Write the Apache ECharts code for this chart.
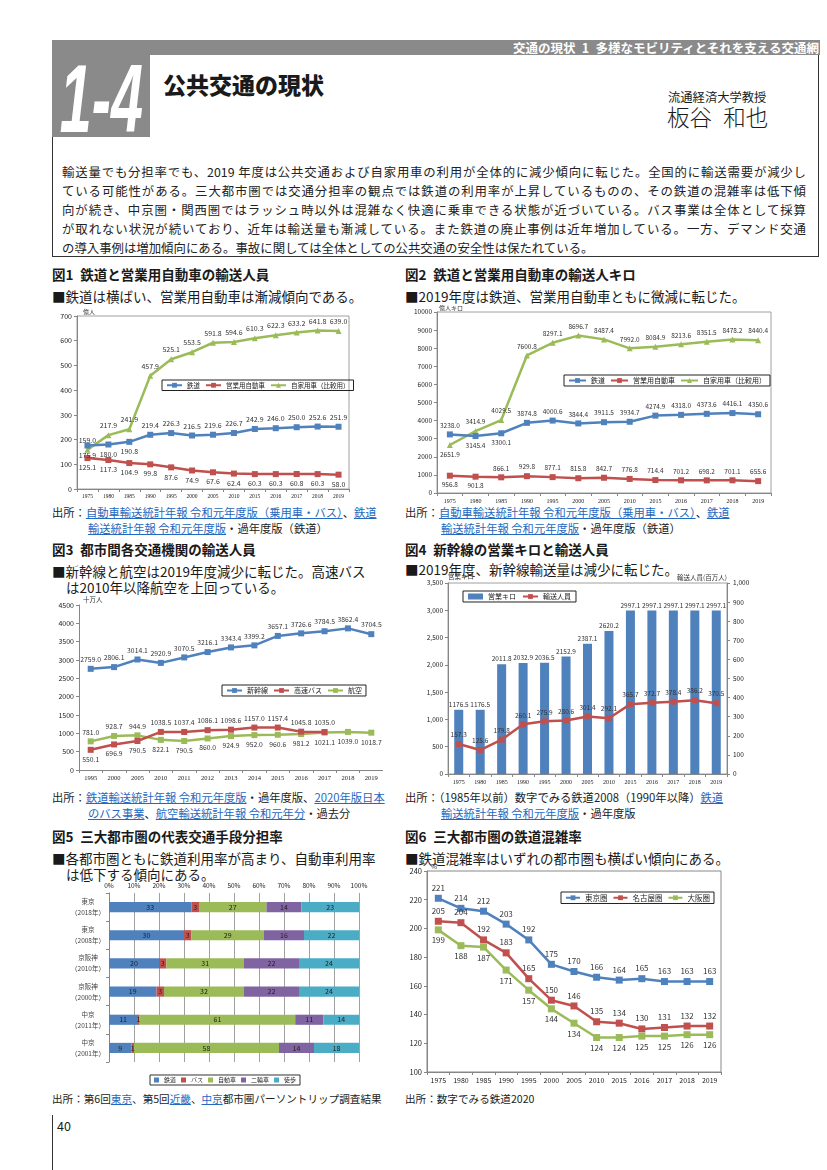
<!DOCTYPE html>
<html><head><meta charset="utf-8">
<script src="https://cdn.jsdelivr.net/npm/echarts@6/dist/echarts.min.js"></script>
<style>
body{margin:0;background:#fff;}
#page{position:relative;width:827px;height:1170px;overflow:hidden;background:#fff;font-family:"Noto Sans CJK JP",sans-serif;color:#1a1a1a;}
.t{position:absolute;white-space:nowrap;line-height:1.15;}
.ttl{font-weight:700;font-size:13.5px;}
.sub{font-size:13.5px;}
.src{font-size:11.3px;color:#222;}
.src a{color:#2468c0;text-decoration:underline;}
.chart{position:absolute;}
.para{position:absolute;left:62px;width:744px;font-size:12.4px;line-height:19px;color:#222;}
.para div{text-align:justify;text-align-last:justify;white-space:nowrap;}
.para div.last{text-align-last:left;}
</style></head>
<body><div id="page">
<!-- header -->
<div style="position:absolute;left:52px;top:40px;width:768px;height:15px;background:#8a8a8a;"></div>
<div class="t" style="right:8px;top:40px;height:15px;line-height:15px;color:#fff;font-weight:700;font-size:12.5px;">交通の現状&ensp;1&ensp;多様なモビリティとそれを支える交通網</div>
<div style="position:absolute;left:52px;top:55px;width:765px;height:201px;border:1px solid #333;border-top:none;"></div>
<div style="position:absolute;left:52px;top:55px;width:98px;height:82px;background:#8a8a8a;overflow:hidden;">
  <div style="position:absolute;left:-101px;top:-4px;width:300px;text-align:center;line-height:1;">
    <span style="display:inline-block;color:#fff;font-family:'Liberation Sans',sans-serif;font-weight:700;font-style:italic;font-size:96px;line-height:1;transform:scaleX(0.6);transform-origin:center;">1-4</span>
  </div>
</div>
<div class="t" style="left:163px;top:71px;font-size:23px;font-weight:900;">公共交通の現状</div>
<div class="t" style="left:668px;top:90px;font-size:12.3px;">流通経済大学教授</div>
<div class="t" style="left:667px;top:104px;font-size:22.5px;font-weight:300;">板谷&ensp;和也</div>
<div class="para" style="top:163px;">
<div>輸送量でも分担率でも、2019 年度は公共交通および自家用車の利用が全体的に減少傾向に転じた。全国的に輸送需要が減少し</div>
<div>ている可能性がある。三大都市圏では交通分担率の観点では鉄道の利用率が上昇しているものの、その鉄道の混雑率は低下傾</div>
<div>向が続き、中京圏・関西圏ではラッシュ時以外は混雑なく快適に乗車できる状態が近づいている。バス事業は全体として採算</div>
<div>が取れない状況が続いており、近年は輸送量も漸減している。また鉄道の廃止事例は近年増加している。一方、デマンド交通</div>
<div class="last">の導入事例は増加傾向にある。事故に関しては全体としての公共交通の安全性は保たれている。</div>
</div>

<!-- titles -->
<div class="t ttl" style="left:52px;top:267px;">図1&ensp;鉄道と営業用自動車の輸送人員</div>
<div class="t sub" style="left:52px;top:289px;">■鉄道は横ばい、営業用自動車は漸減傾向である。</div>
<div class="t ttl" style="left:405px;top:267px;">図2&ensp;鉄道と営業用自動車の輸送人キロ</div>
<div class="t sub" style="left:405px;top:289px;">■2019年度は鉄道、営業用自動車ともに微減に転じた。</div>

<div class="t src" style="left:52px;top:506px;">出所：<a>自動車輸送統計年報 令和元年度版（乗用車・バス）</a>、<a>鉄道</a></div>
<div class="t src" style="left:88px;top:522px;"><a>輸送統計年報 令和元年度版</a>・過年度版（鉄道）</div>
<div class="t src" style="left:405px;top:506px;">出所：<a>自動車輸送統計年報 令和元年度版（乗用車・バス）</a>、<a>鉄道</a></div>
<div class="t src" style="left:441px;top:522px;"><a>輸送統計年報 令和元年度版</a>・過年度版（鉄道）</div>

<div class="t ttl" style="left:52px;top:542px;">図3&ensp;都市間各交通機関の輸送人員</div>
<div class="t sub" style="left:52px;top:564px;">■新幹線と航空は2019年度減少に転じた。高速バス</div>
<div class="t sub" style="left:66px;top:580px;">は2010年以降航空を上回っている。</div>
<div class="t ttl" style="left:405px;top:542px;">図4&ensp;新幹線の営業キロと輸送人員</div>
<div class="t sub" style="left:405px;top:562px;">■2019年度、新幹線輸送量は減少に転じた。</div>

<div class="t src" style="left:52px;top:791px;">出所：<a>鉄道輸送統計年報 令和元年度版</a>・過年度版、<a>2020年版日本</a></div>
<div class="t src" style="left:88px;top:807px;"><a>のバス事業</a>、<a>航空輸送統計年報 令和元年分</a>・過去分</div>
<div class="t src" style="left:405px;top:791px;">出所：（1985年以前）数字でみる鉄道2008（1990年以降）<a>鉄道</a></div>
<div class="t src" style="left:441px;top:807px;"><a>輸送統計年報 令和元年度版</a>・過年度版</div>

<div class="t ttl" style="left:52px;top:829px;">図5&ensp;三大都市圏の代表交通手段分担率</div>
<div class="t sub" style="left:52px;top:851px;">■各都市圏ともに鉄道利用率が高まり、自動車利用率</div>
<div class="t sub" style="left:66px;top:867px;">は低下する傾向にある。</div>
<div class="t ttl" style="left:405px;top:829px;">図6&ensp;三大都市圏の鉄道混雑率</div>
<div class="t sub" style="left:405px;top:851px;">■鉄道混雑率はいずれの都市圏も横ばい傾向にある。</div>

<div class="t src" style="left:52px;top:1093px;font-size:10.6px;">出所：第6回<a>東京</a>、第5回<a>近畿</a>、<a>中京</a>都市圏パーソントリップ調査結果</div>
<div class="t src" style="left:405px;top:1093px;font-size:10.6px;">出所：数字でみる鉄道2020</div>

<div style="position:absolute;left:52px;top:1115px;width:1px;height:55px;background:#333;"></div>
<div class="t" style="left:57px;top:1119px;font-size:12.5px;">40</div>

<div id="c1" class="chart" style="left:52px;top:306px;width:305px;height:200px;"></div>
<div id="c2" class="chart" style="left:405px;top:305px;width:370px;height:205px;"></div>
<div id="c3" class="chart" style="left:52px;top:596px;width:331px;height:196px;"></div>
<div id="c4" class="chart" style="left:405px;top:570px;width:370px;height:222px;"></div>
<div id="c5" class="chart" style="left:52px;top:876px;width:320px;height:215px;"></div>
<div id="c6" class="chart" style="left:405px;top:860px;width:370px;height:232px;"></div>
</div>
<script>
// ---------------- DATA ----------------
const years = ['1975','1980','1985','1990','1995','2000','2005','2010','2015','2016','2017','2018','2019'];
// Fig1 輸送人員 (億人)
const fig1Rail = [175.9,180.0,190.8,219.4,226.3,216.5,219.6,226.7,242.9,246.0,250.0,252.6,251.9];
const fig1Bus  = [125.1,117.3,104.9,99.8,87.6,74.9,67.6,62.4,60.3,60.3,60.8,60.3,58.0];
const fig1Car  = [159.0,217.9,241.9,457.9,525.1,553.5,591.8,594.6,610.3,622.3,633.2,641.8,639.0];
const fig1Ticks = {min:0,max:700,interval:100};
// Fig2 輸送人キロ (億人キロ)
const fig2Rail = [3238.0,3145.4,3300.1,3874.8,4000.6,3844.4,3911.5,3934.7,4274.9,4318.0,4373.6,4416.1,4350.6];
const fig2Bus  = [956.8,901.8,866.1,929.8,877.1,815.8,842.7,776.8,714.4,701.2,698.2,701.1,655.6];
const fig2Car  = [2651.9,3414.9,4029.5,7600.8,8297.1,8696.7,8487.4,7992.0,8084.9,8213.6,8351.5,8478.2,8440.4];
const fig2Ticks = {min:0,max:10000,interval:1000};
// Fig3 都市間 (十万人)
const years3 = ['1995','2000','2005','2010','2011','2012','2013','2014','2015','2016','2017','2018','2019'];
const fig3Shinkansen = [2759.0,2806.1,3014.1,2920.9,3070.5,3216.1,3343.4,3399.2,3657.1,3726.6,3784.5,3862.4,3704.5];
const fig3Bus = [550.1,696.9,790.5,1038.5,1037.4,1086.1,1098.6,1157.0,1157.4,1045.8,1035.0];
const fig3Air = [781.0,928.7,944.9,822.1,790.5,860.0,924.9,952.0,960.6,981.2,1021.1,1039.0,1018.7];
const fig3Ticks = {min:0,max:4500,interval:500};
// Fig4 新幹線
const fig4Km = [1176.5,1176.5,2011.8,2032.9,2036.5,2152.9,2387.1,2620.2,2997.1,2997.1,2997.1,2997.1,2997.1];
const fig4Pax = [157.3,125.6,179.8,260.1,275.9,280.6,301.4,292.1,365.7,372.7,378.4,386.2,370.5];
const fig4LeftTicks = {min:0,max:3500,interval:500};
const fig4RightTicks = {min:0,max:1000,interval:100};
// Fig5 分担率 (%)
const fig5Cats = ['東京\n（2018年）','東京\n（2008年）','京阪神\n（2010年）','京阪神\n（2000年）','中京\n（2011年）','中京\n（2001年）'];
const fig5Modes = ['鉄道','バス','自動車','二輪車','徒歩'];
const fig5Rail = [33,30,20,19,11,9];
const fig5Bus  = [3,3,3,3,1,1];
const fig5Car  = [27,29,31,32,61,58];
const fig5Bike = [14,16,22,22,11,14];
const fig5Walk = [23,22,24,24,14,18];
// Fig6 混雑率 (%)
const fig6Tokyo  = [221,214,212,203,192,175,170,166,164,165,163,163,163];
const fig6Nagoya = [205,204,192,183,165,150,146,135,134,130,131,132,132];
const fig6Osaka  = [199,188,187,171,157,144,134,124,124,125,125,126,126];
const fig6Ticks = {min:100,max:240,interval:20};

// ---------------- STYLE ----------------
const BLUE='#4F81BD', RED='#C0504D', GREEN='#9BBB59', PURPLE='#8064A2', CYAN='#4BACC6';
const FONT = "'Noto Sans CJK JP', sans-serif";
const AX = '#868686';

function lineS(name, data, color, symbol, below, opt){
  opt = opt || {};
  return {
    type:'line', name, symbol, symbolSize: opt.ss || 6,
    yAxisIndex: opt.yi || 0,
    data: data.map((v,i)=>({value:v, label:{position: below.indexOf(i)>=0 ? 'bottom':'top'}})),
    itemStyle:{color}, lineStyle:{color, width: opt.lw || 2.5},
    label:{show:true, fontSize: opt.fs || 7, color:'#333', distance: 3,
      formatter: p => opt.int ? String(p.value) : p.value.toFixed(1)},
    animation:false, z: opt.z || 2
  };
}
function range(a,b){const r=[];for(let i=a;i<=b;i++)r.push(i);return r;}

function catAxis(cats, fs, ff){
  return {type:'category', data:cats, boundaryGap:true,
    axisLine:{show:true,lineStyle:{color:AX}}, axisTick:{show:true,length:3,lineStyle:{color:AX}},
    axisLabel:{fontSize:fs, color:'#222', margin:5, interval:0, fontFamily: ff || FONT}};
}
function valAxis(t, fs, extra){
  return Object.assign({type:'value', min:t.min, max:t.max, interval:t.interval,
    axisLine:{show:true,lineStyle:{color:AX}}, axisTick:{show:true,length:3,lineStyle:{color:AX}},
    splitLine:{show:false}, axisLabel:{fontSize:fs, color:'#222', margin:5, formatter:v=>String(v)}}, extra||{});
}
function legendBox(left, top, names, fs, iw){
  return {left, top, orient:'horizontal', data:names, itemWidth: iw || 15, itemHeight:6, itemGap:5,
    borderColor:'#222', borderWidth:1, padding:[2,4], textStyle:{fontSize:fs, color:'#222'}};
}

// ---------------- FIG 1 ----------------
echarts.init(document.getElementById('c1')).setOption({
  animation:false, textStyle:{fontFamily:FONT},
  grid:{left:25, right:8, top:10, bottom:17, show:true, borderColor:'#a0a0a0', borderWidth:1},
  legend: legendBox(110, 74, ['鉄道','営業用自動車','自家用車（比較用）'], 6.5),
  xAxis: catAxis(years, 5.5, "'Liberation Serif', serif"),
  yAxis: valAxis(fig1Ticks, 7, {name:'億人', nameLocation:'end', nameGap:1,
    nameTextStyle:{fontSize:6, align:'left', color:'#333', padding:[0,0,0,6]}}),
  series:[
    lineS('鉄道', fig1Rail, BLUE, 'rect', [0,1,2], {ss:6, z:3}),
    lineS('営業用自動車', fig1Bus, RED, 'rect', range(0,12), {ss:6}),
    lineS('自家用車（比較用）', fig1Car, GREEN, 'triangle', [], {ss:6})
  ]
});

// ---------------- FIG 2 ----------------
echarts.init(document.getElementById('c2')).setOption({
  animation:false, textStyle:{fontFamily:FONT},
  grid:{left:32, right:4, top:7, bottom:17, show:true, borderColor:'#a0a0a0', borderWidth:1},
  legend: legendBox(159, 70, ['鉄道','営業用自動車','自家用車（比較用）'], 7, 17),
  xAxis: catAxis(years, 6, "'Liberation Serif', serif"),
  yAxis: valAxis(fig2Ticks, 6.5, {name:'億人キロ', nameLocation:'end', nameGap:1,
    nameTextStyle:{fontSize:6, align:'left', color:'#333', padding:[0,0,0,2]}}),
  series:[
    lineS('鉄道', fig2Rail, BLUE, 'rect', [1,2], {ss:6, fs:6.5, z:3}),
    lineS('営業用自動車', fig2Bus, RED, 'rect', [0,1], {ss:6, fs:6.5}),
    lineS('自家用車（比較用）', fig2Car, GREEN, 'triangle', [0], {ss:6, fs:6.5})
  ]
});

// ---------------- FIG 3 ----------------
echarts.init(document.getElementById('c3')).setOption({
  animation:false, textStyle:{fontFamily:FONT},
  grid:{left:27, right:0, top:9, bottom:22},
  legend: legendBox(170, 89, ['新幹線','高速バス','航空'], 7, 15),
  xAxis: catAxis(years3, 6.5, "'Liberation Serif', serif"),
  yAxis: valAxis(fig3Ticks, 7, {name:'十万人', nameLocation:'end', nameGap:2,
    nameTextStyle:{fontSize:6.5, align:'left', color:'#333', padding:[0,0,0,4]}}),
  series:[
    lineS('新幹線', fig3Shinkansen, BLUE, 'rect', [], {ss:6, fs:6.8}),
    lineS('高速バス', fig3Bus, RED, 'rect', [0,1,2], {ss:6, fs:6.8, z:3}),
    lineS('航空', fig3Air, GREEN, 'rect', range(3,12), {ss:6, fs:6.8})
  ]
});

// ---------------- FIG 4 ----------------
echarts.init(document.getElementById('c4')).setOption({
  animation:false, textStyle:{fontFamily:FONT},
  grid:{left:43, right:48, top:13, bottom:18, show:true, borderColor:'#a0a0a0', borderWidth:1},
  legend:{left:58, top:21, data:[{name:'営業キロ', icon:'rect'},{name:'輸送人員'}],
    itemWidth:15, itemHeight:6, itemGap:6, borderColor:'#222', borderWidth:1, padding:[2,5],
    textStyle:{fontSize:7, color:'#222'}},
  xAxis: catAxis(years, 6, "'Liberation Serif', serif"),
  yAxis:[
    valAxis(fig4LeftTicks, 6.5, {name:'営業キロ', nameLocation:'end', nameGap:2,
      nameTextStyle:{fontSize:6.5, align:'left', color:'#333'},
      axisLabel:{fontSize:6.5, color:'#222', margin:5, formatter:v=>v.toLocaleString('en-US')}}),
    valAxis(fig4RightTicks, 6.5, {position:'right', name:'輸送人員(百万人)', nameLocation:'end', nameGap:2,
      nameTextStyle:{fontSize:6.5, align:'right', color:'#333'},
      axisLabel:{fontSize:6.5, color:'#222', margin:6, formatter:v=>v.toLocaleString('en-US')}})
  ],
  series:[
    {type:'bar', name:'営業キロ', data:fig4Km, barWidth:'42%', itemStyle:{color:BLUE},
      label:{show:true, position:'top', fontSize:6.5, color:'#333', distance:2, formatter:p=>p.value.toFixed(1)}},
    lineS('輸送人員', fig4Pax, RED, 'rect', [], {ss:6, fs:6.5, yi:1, z:3})
  ]
});

// ---------------- FIG 5 ----------------
const fig5Sets = [fig5Rail, fig5Bus, fig5Car, fig5Bike, fig5Walk];
const fig5Colors = [BLUE, RED, GREEN, PURPLE, CYAN];
const fig5Totals = fig5Rail.map((_,i)=>fig5Sets.reduce((s,a)=>s+a[i],0));
echarts.init(document.getElementById('c5')).setOption({
  animation:false, textStyle:{fontFamily:FONT},
  grid:{left:57, right:13, top:17, bottom:29},
  legend:{bottom:6, left:98, data:fig5Modes, icon:'rect', itemWidth:5, itemHeight:5, itemGap:5,
    borderColor:'#333', borderWidth:1, padding:[2,4], textStyle:{fontSize:6, color:'#222'}},
  xAxis:{type:'value', position:'top', min:0, max:100, interval:10,
    axisLine:{show:false}, axisTick:{show:false},
    splitLine:{show:true, lineStyle:{color:'#888', width:0.8}},
    axisLabel:{fontSize:6.5, color:'#222', margin:4, formatter:'{value}%'}},
  yAxis:{type:'category', data:fig5Cats, inverse:true,
    axisLine:{show:true, lineStyle:{color:'#888'}}, axisTick:{show:true, length:3, lineStyle:{color:'#888'}},
    axisLabel:{fontSize:6.5, color:'#444', lineHeight:11, align:'center', margin:21}},
  series: fig5Sets.map((arr,k)=>({
    type:'bar', name:fig5Modes[k], stack:'s', barWidth:'36%',
    data: arr.map((v,i)=> v / fig5Totals[i] * 100),
    itemStyle:{color:fig5Colors[k]},
    label:{show:true, position:'inside', fontSize:7, color:'#222', formatter:p=>String(arr[p.dataIndex])}
  }))
});

// ---------------- FIG 6 ----------------
echarts.init(document.getElementById('c6')).setOption({
  animation:false, textStyle:{fontFamily:FONT},
  grid:{left:22, right:54, top:11, bottom:20, show:true, borderColor:'#888', borderWidth:1},
  legend: legendBox(156, 32, ['東京圏','名古屋圏','大阪圏'], 7.5, 14),
  xAxis: catAxis(years, 7, FONT),
  yAxis: valAxis(fig6Ticks, 7.5, {name:'%', nameLocation:'end', nameGap:1,
    nameTextStyle:{fontSize:6.5, align:'left', color:'#333', padding:[0,0,0,4]}}),
  series:[
    lineS('東京圏', fig6Tokyo, BLUE, 'rect', [], {ss:7, fs:8, int:true}),
    lineS('名古屋圏', fig6Nagoya, RED, 'rect', [], {ss:7, fs:8, int:true}),
    lineS('大阪圏', fig6Osaka, GREEN, 'rect', range(0,12), {ss:7, fs:8, int:true})
  ]
});
</script>
</body></html>
